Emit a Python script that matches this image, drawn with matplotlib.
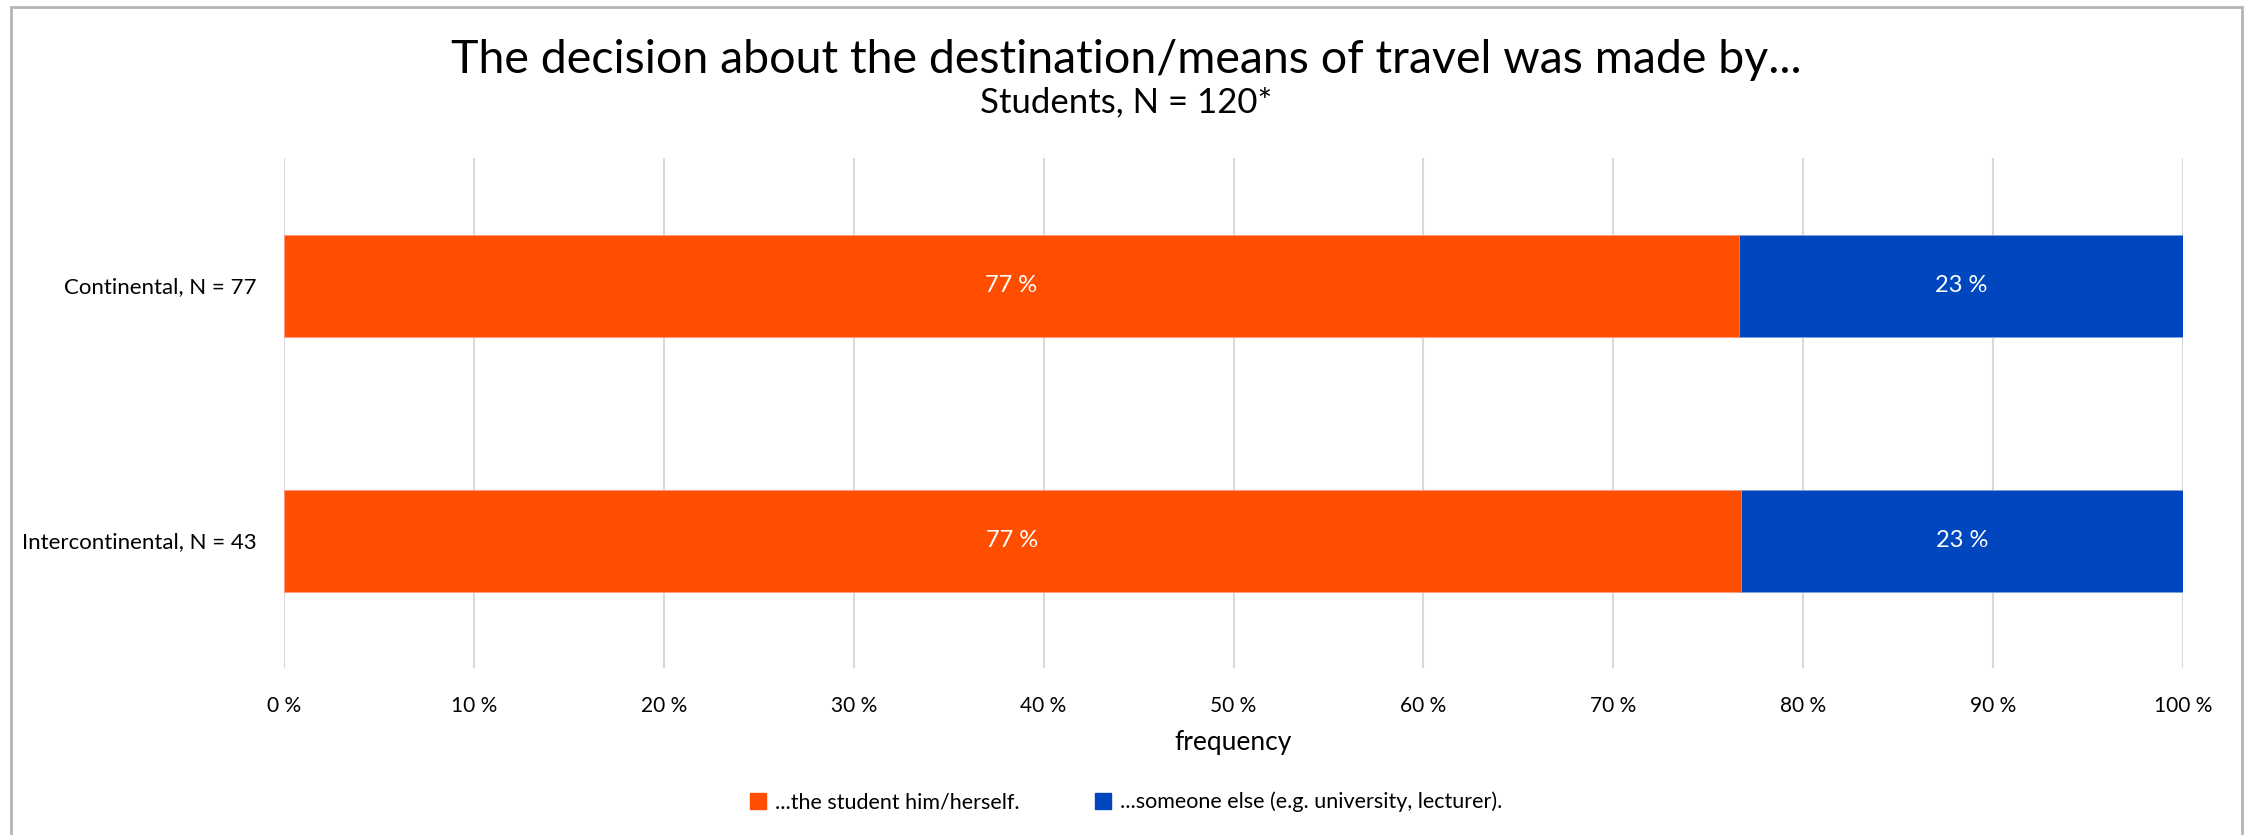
"""
Stacked horizontal bar chart: who decided about the destination/means of travel.
"""
import matplotlib
matplotlib.use('Agg')
from matplotlib import pyplot as plt
from matplotlib.patches import Rectangle, Patch

# data
categories = ['Continental, N = 77', 'Intercontinental, N = 43']
self_share = [76.6, 76.7]
other_share = [23.4, 23.3]
self_labels = ['77 %', '77 %']
other_labels = ['23 %', '23 %']
series_names = ['...the student him/herself.', '...someone else (e.g. university, lecturer).']
x_ticks = [0, 10, 20, 30, 40, 50, 60, 70, 80, 90, 100]

ORANGE = '#ff4e00'
BLUE = '#0046bf'

plt.rcParams['font.family'] = ['Lato', 'DejaVu Sans']

W, H = 2252, 835
fig = plt.figure(figsize=(W / 100, H / 100), dpi=100)
ax = fig.add_axes([284 / W, 1 - 668 / H, (2183 - 284) / W, (668 - 158) / H])

y = list(range(len(categories)))
ax.barh(y, self_share, height=0.4, color=ORANGE, edgecolor='#ff9a80', linewidth=0.6, zorder=3)
ax.barh(y, other_share, left=self_share, height=0.4, color=BLUE, edgecolor='#7f9fe0',
        linewidth=0.6, zorder=3)

for i in y:
	ax.text(self_share[i] / 2, i, self_labels[i], ha='center', va='center',
	        color='white', fontsize=17, zorder=4)
	ax.text(self_share[i] + other_share[i] / 2, i, other_labels[i], ha='center', va='center',
	        color='white', fontsize=17, zorder=4)

ax.set_xlim(0, 100)
ax.set_ylim(1.5, -0.5)
ax.set_yticks(y)
ax.set_yticklabels(categories, fontsize=16)
ax.set_xticks(x_ticks)
ax.set_xticklabels([f'{t} %' for t in x_ticks], fontsize=15)
ax.tick_params(axis='both', length=0, colors='black')
ax.tick_params(axis='y', pad=20)
ax.tick_params(axis='x', pad=20)
ax.grid(axis='x', color='#d9d9d9', linewidth=1.5, zorder=0)
for s in ax.spines.values():
	s.set_visible(False)
ax.set_xlabel('frequency', fontsize=19, labelpad=10)

fig.text(0.5, 1 - 60 / H, 'The decision about the destination/means of travel was made by...',
         ha='center', va='center', fontsize=33.5)
fig.text(0.5, 1 - 102 / H, 'Students, N = 120*', ha='center', va='center', fontsize=25)

handles = [Patch(color=ORANGE), Patch(color=BLUE)]
fig.legend(handles, series_names, loc='center', bbox_to_anchor=(0.5, 1 - 802 / H), ncol=2,
           frameon=False, fontsize=15.5, handlelength=0.75, handleheight=0.75,
           handletextpad=0.4, columnspacing=3.5)

# outer frame
fig.patches.append(Rectangle((11 / W, -0.05), (2242 - 11) / W, 1.05 - 7 / H,
                             transform=fig.transFigure, fill=False,
                             edgecolor='#b4b4b4', linewidth=2))

fig.savefig('out.png', dpi=100)
